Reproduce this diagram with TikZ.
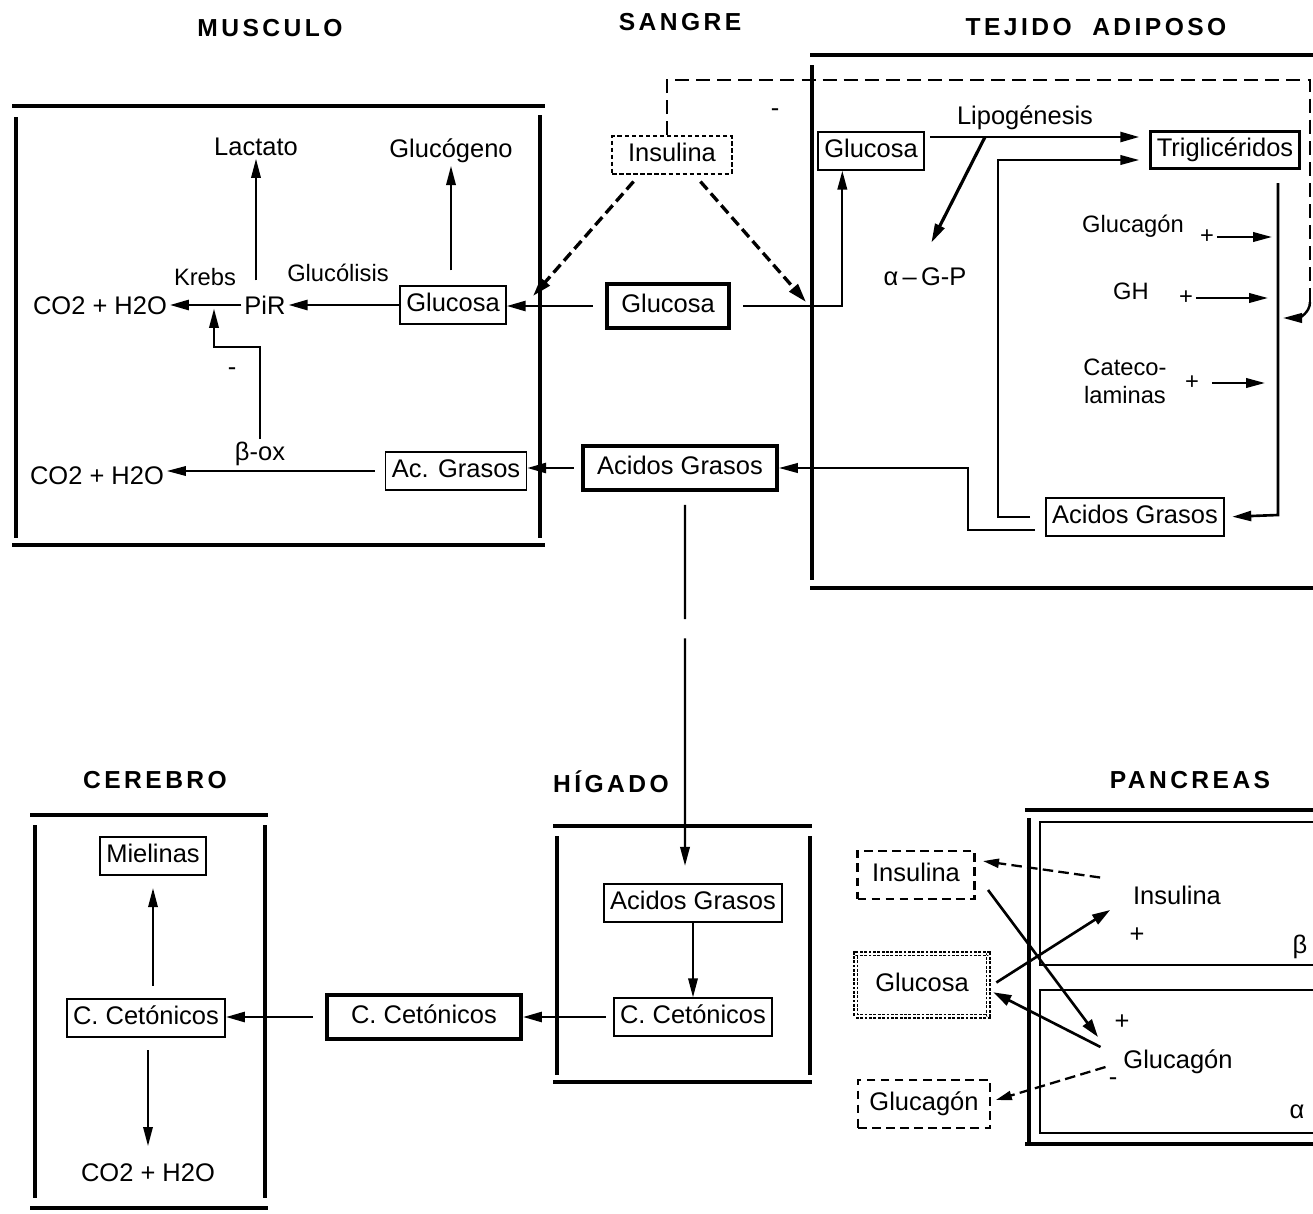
\documentclass[tikz,border=0pt]{standalone}
\usepackage{fontspec}
\setmainfont{Liberation Sans}
\newfontfamily\titulofont[LetterSpace=14]{Liberation Sans}
\usetikzlibrary{arrows.meta, positioning}
\newcommand{\letra}{\fontsize{14.5}{17}\selectfont}
\newcommand{\letrachica}{\fontsize{13.5}{16}\selectfont}
\tikzstyle{arrow} = [line width=1.5pt, -{Triangle[length=3.8mm,width=2mm]}]
\tikzstyle{arrow_F} = [line width=1pt, -{Triangle[length=3.8mm,width=1.9mm]}]
\tikzstyle{arrow_D} = [line width=1.9pt, dash pattern=on 6pt off 3pt, -{Triangle[length=3.8mm,width=2.2mm]}]
\tikzstyle{arrow_DP} = [line width=1.3pt, dash pattern=on 6pt off 3pt, -{Triangle[length=3.2mm,width=1.8mm]}]
\tikzstyle{arrow_P} = [line width=1.5pt, -{Triangle[length=3.6mm,width=2.2mm]}]
\tikzstyle{linea_D} = [line width=1.4pt, dash pattern=on 8pt off 4pt]
\tikzstyle{pared} = [line width=2.6pt]
\tikzstyle{celula} = [line width=1pt]
\tikzstyle{texto} = [inner sep=1.5pt, font=\letra]
\tikzstyle{chica} = [inner sep=1.5pt, font=\letrachica]
\tikzstyle{titulo} = [inner sep=1pt, font=\titulofont\bfseries\fontsize{14}{16}\selectfont]
\tikzstyle{caja} = [
rectangle, draw=black, line width=0.9pt, inner xsep=3.5pt, inner ysep=4pt,
text height=10.5pt, text depth=3pt, font=\letra
]
\tikzstyle{caja_S} = [caja, line width=2.2pt, inner xsep=8pt, inner ysep=6pt]
\tikzstyle{caja_D} = [caja, line width=1pt, dash pattern=on 2.5pt off 1.5pt, inner xsep=9pt]
\tikzstyle{caja_DP} = [caja, line width=1.2pt, dash pattern=on 5pt off 3pt, minimum height=0.97cm]
\tikzstyle{caja_P} = [
caja, line width=0.7pt, double, double distance=1.2pt, dash pattern=on 1.6pt off 0.9pt,
minimum height=1.25cm, minimum width=2.65cm
]

\begin{document}
\begin{tikzpicture}[x=0.02cm, y=-0.02cm]
\useasboundingbox (0,0) rectangle (1313,1214);

% Titulos
\node (T_musculo) [titulo] at (270,28) {MUSCULO};
\node (T_sangre) [titulo] at (680,22) {SANGRE};
\node (T_adiposo) [titulo] at (1096,27) {TEJIDO\ \ ADIPOSO};
\node (T_cerebro) [titulo] at (155,780) {CEREBRO};
\node (T_higado) [titulo] at (611,782) {HÍGADO};
\node (T_pancreas) [titulo] at (1190,780) {PANCREAS};

% Paredes
\draw [pared] (12,106) -- (545,106);
\draw [pared] (16,117) -- (16,538);
\draw [pared] (540,115) -- (540,538);
\draw [pared] (12,545) -- (545,545);
\draw [pared] (810,55) -- (1313,55);
\draw [pared] (812,65) -- (812,580);
\draw [pared] (810,588) -- (1313,588);
\draw [pared] (553,826) -- (812,826);
\draw [pared] (557,836) -- (557,1075);
\draw [pared] (810,836) -- (810,1075);
\draw [pared] (553,1082) -- (812,1082);
\draw [pared] (30,815) -- (268,815);
\draw [pared] (35,825) -- (35,1198);
\draw [pared] (265,825) -- (265,1198);
\draw [pared] (30,1208) -- (268,1208);
\draw [pared] (1025,810) -- (1313,810);
\draw [pared] (1029,818) -- (1029,1143);
\draw [pared] (1025,1144) -- (1313,1144);
\draw [celula] (1313,822) -- (1040,822) -- (1040,965) -- (1313,965);
\draw [celula] (1313,990) -- (1040,990) -- (1040,1133) -- (1313,1133);

% Sangre
\node (Ins_S) [caja_D] at (672,155) {Insulina};
\node (Glu_S) [caja_S] at (668,306) {Glucosa};
\node (AG_S) [caja_S] at (680,468) {Acidos Grasos};
\node (CC_S) [caja_S, minimum width=3.88cm] at (424,1017) {C. Cetónicos};
\node (Menos_S) [texto] at (775,113) {-};

% Musculo
\node (Glu_M) [caja] at (453,305) {Glucosa};
\node (AG_M) [caja] at (456,471) {Ac. Grasos};
\node (PiR) [texto] at (265,305) {PiR};
\node (CO2_1) [texto] at (100,306) {CO2 + H2O};
\node (CO2_2) [texto] at (97,476) {CO2 + H2O};
\node (Lactato) [texto] at (256,147) {Lactato};
\node (Glucogeno) [texto] at (451,151) {Glucógeno};
\node (Krebs) [chica] at (205,277) {Krebs};
\node (Glucolisis) [chica] at (338,273) {Glucólisis};
\node (Beta_ox) [texto] at (260,454) {β-ox};
\node (Menos_M) [texto] at (232,372) {-};
\coordinate (Krebs_pt) at (214,307);

% Tejido adiposo
\node (Glu_A) [caja] at (871,151) {Glucosa};
\node (TG) [caja, line width=1.6pt] at (1225,150) {Triglicéridos};
\node (AG_A) [caja] at (1135,517) {Acidos Grasos};
\node (Lipo) [texto] at (1025,118) {Lipogénesis};
\node (AGP) [texto] at (925,277) {α\,–\,G-P};
\node (Glucagon_A) [chica] at (1133,226) {Glucagón};
\node (GH) [chica] at (1131,291) {GH};
\node (Catecol) [chica, align=center] at (1125,381) {Cateco-\\laminas};
\node (Mas_1) [chica] at (1207,237) {+};
\node (Mas_2) [chica] at (1186,298) {+};
\node (Mas_3) [chica] at (1192,383) {+};
\coordinate (Lipo_pt) at (985,137);
\coordinate (Lip_top) at (1278,183);
\coordinate (Lip_bot) at (1278,515);
\coordinate (Ent_M) at (533,296);
\coordinate (Ent_A) at (806,302);
\coordinate (Ins_esq) at (1310,80);
\coordinate (Ins_fin) at (1283,318);

% Higado y cerebro
\node (AG_H) [caja] at (693,903) {Acidos Grasos};
\node (CC_H) [caja] at (693,1017) {C. Cetónicos};
\node (CC_C) [caja] at (146,1018) {C. Cetónicos};
\node (Mielinas) [caja] at (153,856) {Mielinas};
\node (CO2_3) [texto] at (148,1173) {CO2 + H2O};

% Pancreas
\node (InsP) [caja_DP, minimum width=2.34cm] at (916,875) {Insulina};
\node (GluP) [caja_P] at (922,985) {Glucosa};
\node (GlgP) [caja_DP, minimum width=2.64cm] at (924,1104) {Glucagón};
\node (Ins_P) [texto] at (1177,895) {Insulina};
\node (Glg_P) [texto] at (1178,1062) {Glucagón};
\node (Mas_B) [texto] at (1137,935) {+};
\node (Mas_A) [texto] at (1122,1022) {+};
\node (Menos_A) [texto] at (1113,1082) {-};
\node (Beta) [texto] at (1300,947) {β};
\node (Alfa) [texto] at (1297,1112) {α};

% Conexiones musculo
\draw [arrow, shorten <=0.25cm] (Glu_S.west) -- (Glu_S.west -| Glu_M.east);
\draw [arrow] (Glu_M.west) -- (Glu_M.west -| PiR.east);
\draw [arrow] (PiR.west) -- (PiR.west -| CO2_1.east);
\draw [arrow_F, shorten <=0.25cm] (PiR.north -| Lactato.south) -- (Lactato.south);
\draw [arrow_F, shorten <=0.3cm] (Glu_M.north -| Glucogeno.south) -- (Glucogeno.south);
\draw [arrow_F, shorten >=1pt] (Beta_ox.north) -- ++(0,-92) -| (Krebs_pt);
\draw [arrow_F, shorten <=0.2cm] (AG_M.west) -- (AG_M.west -| CO2_2.east);
\draw [arrow, shorten <=0.15cm] (AG_S.west) -- (AG_S.west -| AG_M.east);
\draw [arrow_D, shorten <=0.18cm] ([xshift=-0.65cm]Ins_S.south) -- (Ent_M);
\draw [arrow_D, shorten <=0.18cm] ([xshift=0.45cm]Ins_S.south) -- (Ent_A);

% Conexiones tejido adiposo
\draw [arrow_F, line width=1.3pt, shorten <=0.25cm] (Glu_S.east) -| ([xshift=0.5cm]Glu_A.south west);
\draw [arrow, shorten <=3pt, shorten >=0.2cm] ([yshift=0.28cm]Glu_A.east) -- ([yshift=0.28cm]Glu_A.east -| TG.west);
\draw [arrow, line width=1.8pt, shorten >=0.5cm] (Lipo_pt) -- ([xshift=-0.1cm]AGP.north);
\draw [arrow_F, line width=1.3pt, shorten <=0.3cm, shorten >=0.2cm] (AG_A.west) -- ++(-47,0) |- ([yshift=-0.2cm]TG.west);
\draw [arrow_F, line width=1.3pt, shorten <=0.2cm] ([yshift=-0.26cm]AG_A.west) -- ++(-77,0) |- (AG_S.east);
\draw [arrow, shorten >=0.15cm] (Lip_top) -- (Lip_bot) -- (AG_A.east);
\draw [arrow_F, line width=1.3pt, shorten >=0.12cm] (Mas_1.east) -- (Mas_1.east -| Lip_top);
\draw [arrow_F, line width=1.3pt, shorten >=0.2cm] (Mas_2.east) -- (Mas_2.east -| Lip_top);
\draw [arrow_F, line width=1.3pt, shorten <=0.2cm, shorten >=0.26cm] (Mas_3.east) -- (Mas_3.east -| Lip_top);
\draw [linea_D] ([xshift=-0.1cm]Ins_S.north) |- (Ins_esq) -- ++(0,222);
\draw [arrow_F, line width=1.4pt] (1310,302) .. controls +(0,12) and +(14,0) .. (Ins_fin);

% Conexiones higado y cerebro
\draw [arrow_F, line width=1.2pt, shorten <=0.25cm, shorten >=0.35cm, dash pattern=on 65pt off 11pt on 400pt off 1pt] ([xshift=0.1cm]AG_S.south) -- ([xshift=-0.16cm]AG_H.north);
\draw [arrow_F] (AG_H) -- (CC_H);
\draw [arrow, shorten <=0.15cm] (CC_H.west) -- (CC_H.west -| CC_S.east);
\draw [arrow, shorten <=0.25cm] (CC_S.west) -- (CC_S.west -| CC_C.east);
\draw [arrow_F, shorten <=0.25cm, shorten >=0.25cm] (CC_C.north -| Mielinas.south) -- (Mielinas.south);
\draw [arrow_F, shorten <=0.25cm, shorten >=0.3cm] (CC_C.south -| CO2_3.north) -- (CO2_3.north);

% Conexiones pancreas
\draw [arrow_DP, shorten >=0.15cm] ([shift={(-0.6cm,0.35cm)}]Ins_P.west) -- ([yshift=0.3cm]InsP.east);
\draw [arrow_P] ([shift={(0.15cm,0.05cm)}]GluP.east) -- ([shift={(-0.4cm,-0.3cm)}]Ins_P.west);
\draw [arrow_P] ([shift={(0.25cm,-0.3cm)}]InsP.east) -- ([shift={(-0.45cm,0.5cm)}]Glg_P.west);
\draw [arrow_P, shorten >=0.1cm] ([shift={(-0.4cm,0.3cm)}]Glg_P.west) -- ([yshift=-0.1cm]GluP.east);
\draw [arrow_DP, shorten >=0.1cm] ([shift={(-0.3cm,-0.1cm)}]Glg_P.west) -- ([yshift=0.05cm]GlgP.east);

\end{tikzpicture}
\end{document}
